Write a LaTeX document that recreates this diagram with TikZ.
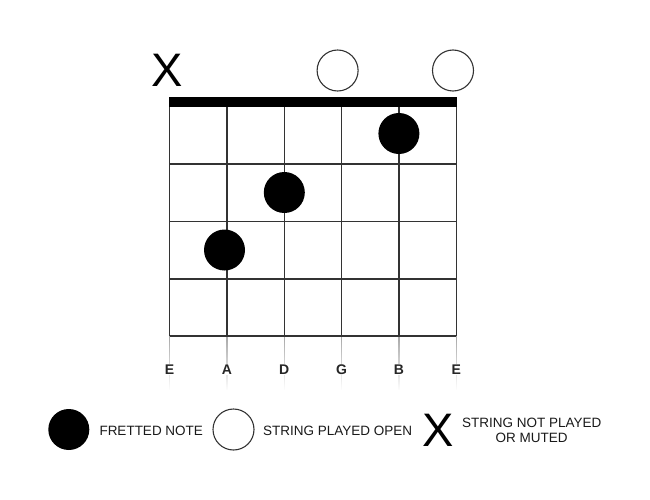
\documentclass[tikz,border=0pt]{standalone}
\usepackage{fontspec}
\setmainfont{Liberation Sans}
\usetikzlibrary{fadings}
\tikzset{
  fret/.style={line width=1.4pt,black!80},
  tail/.style={line width=1.4pt,black!35,path fading=south},
  dot/.style={circle,fill=black,minimum size=41pt,inner sep=0pt},
  opendot/.style={circle,draw=black!80,line width=1.1pt,minimum size=41pt,inner sep=0pt},
  mute/.style={font=\fontsize{47}{47}\selectfont,inner sep=0pt},
  strname/.style={font=\fontsize{14}{14}\selectfont\bfseries,text=black!85,fill=white,inner sep=1pt},
  key/.style={font=\fontsize{13.5}{15}\selectfont,text=black!90,anchor=west,inner sep=0pt}
}
\begin{document}
\begin{tikzpicture}[x=1pt,y=-1pt]
            \useasboundingbox (0,0) rectangle (650,500);

            % strings below the last fret
            \draw[tail] (169.5,336)--(169.5,390);
            \draw[tail] (227,336)--(227,390);
            \draw[tail] (284.3,336)--(284.3,390);
            \draw[tail] (341.6,336)--(341.6,390);
            \draw[tail] (398.9,336)--(398.9,390);
            \draw[tail] (456.2,336)--(456.2,390);

            % strings
            \draw[fret] (169.5,102)--(169.5,336);
            \draw[fret] (227,102)--(227,336);
            \draw[fret] (284.3,102)--(284.3,336);
            \draw[fret] (341.6,102)--(341.6,336);
            \draw[fret] (398.9,102)--(398.9,336);
            \draw[fret] (456.2,102)--(456.2,336);

            % frets
            \draw[fret] (169.5,164)--(456.2,164);
            \draw[fret] (169.5,221.5)--(456.2,221.5);
            \draw[fret] (169.5,279)--(456.2,279);
            \draw[fret] (169.5,336)--(456.2,336);

            % nut
            \fill (169,96.8) rectangle (456.8,106.8);

            \node[strname] (e6) at (169.5,369.5) {E};
            \node[strname] (a5) at (227,369.5) {A};
            \node[strname] (d4) at (284.3,369.5) {D};
            \node[strname] (g3) at (341.6,369.5) {G};
            \node[strname] (b2) at (398.9,369.5) {B};
            \node[strname] (e1) at (456.2,369.5) {E};

            \node[mute] (mute6) at (167,70) {X};
            \node[opendot] (open3) at (337.6,70.5) {};
            \node[opendot] (open1) at (453,70.5) {};

            \node[dot] (fing2) at (398.9,133.5) {};
            \node[dot] (fing4) at (284.3,192.5) {};
            \node[dot] (fing5) at (224.5,250) {};

            % key
            \node[dot] (keydot) at (68.8,429.5) {};
            \node[key] (keydottext) at (99.3,430.5) {FRETTED NOTE};
            \node[opendot] (keyopen) at (233.5,429.5) {};
            \node[key] (keyopentext) at (263,430.5) {STRING PLAYED OPEN};
            \node[mute] (keymute) at (438,430.5) {X};
            \node[key,anchor=center,align=center] (keymutetext) at (531.7,430.5) {STRING NOT PLAYED\\OR MUTED};
        \end{tikzpicture}
\end{document}
